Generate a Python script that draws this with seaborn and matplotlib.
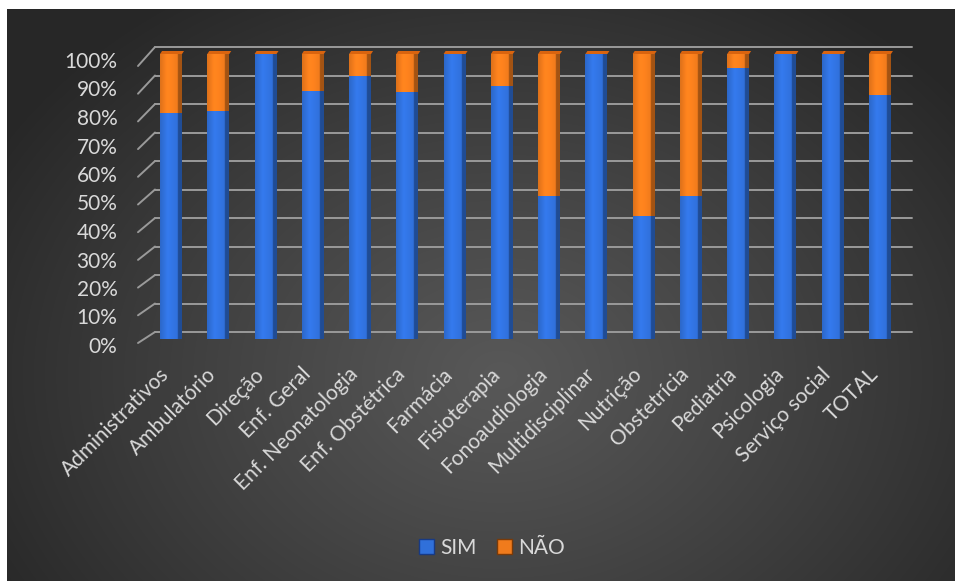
import numpy as np
import pandas as pd
import matplotlib
matplotlib.use("Agg")
import matplotlib.pyplot as plt
import seaborn as sns
from matplotlib.patches import Patch, Polygon
import matplotlib.transforms as mtransforms

# ---------------- data ----------------
categories = ["Administrativos", "Ambulatório", "Direção", "Enf. Geral",
              "Enf. Neonatologia", "Enf. Obstétrica", "Farmácia", "Fisioterapia",
              "Fonoaudiologia", "Multidisciplinar", "Nutrição", "Obstetrícia",
              "Pediatria", "Psicologia", "Serviço social", "TOTAL"]
sim = [79, 80, 100, 87, 92, 86.5, 100, 88.5, 50, 100, 43, 50, 95, 100, 100, 85.5]
nao = [21, 20, 0, 13, 8, 13.5, 0, 11.5, 50, 0, 57, 50, 5, 0, 0, 14.5]
series_labels = ["SIM", "NÃO"]
ytick_values = list(range(0, 101, 10))
ytick_labels = [f"{v}%" for v in ytick_values]

BLUE = "#3070da"
ORANGE = "#f07b1c"
TEXT = "#d9d9d9"
GRID = "#9a9a9a"

sns.set_style("white")
plt.rcParams["font.family"] = ["Lato", "DejaVu Sans"]

W, H, DPI = 956, 581, 100
fig = plt.figure(figsize=(W / DPI, H / DPI), dpi=DPI, facecolor="white")

# ---------------- background (radial gradient) ----------------
bg = fig.add_axes([7 / W, 0, 948 / W, 572 / H])
bw, bh = 948, 572
X, Y = np.meshgrid(np.arange(bw), np.arange(bh))
cx, cy = 0.52 * bw, 0.64 * bh
d = np.sqrt(((X - cx) / (0.62 * bw)) ** 2 + ((Y - cy) / (0.80 * bh)) ** 2)
d = np.clip(d, 0, 1)
c_center, c_edge = 0x58 / 255, 0x27 / 255
val = c_center + (c_edge - c_center) * d ** 1.1
img = np.dstack([val, val, val])
bg.imshow(img, aspect="auto", origin="upper", interpolation="bilinear")
bg.set_axis_off()
bg.set_zorder(-10)

# ---------------- main axes ----------------
ax_left, ax_right = 147.4, 903.6
ax_bottom, ax_top = 339, 54
ax = fig.add_axes([ax_left / W, (H - ax_bottom) / H,
                   (ax_right - ax_left) / W, (ax_bottom - ax_top) / H])
ax.patch.set_alpha(0)

df = pd.DataFrame({"cat": categories, "sim": sim, "nao": nao})
df["total"] = df["sim"] + df["nao"]

bar_w = 0.465
sns.barplot(data=df, x="cat", y="total", color=ORANGE, saturation=1,
            width=bar_w, errorbar=None, ax=ax, zorder=3, linewidth=0)
sns.barplot(data=df, x="cat", y="sim", color=BLUE, saturation=1,
            width=bar_w, errorbar=None, ax=ax, zorder=4, linewidth=0)

ax.set_xlim(-0.5, len(categories) - 0.5)
ax.set_ylim(0, 100)
for s in ax.spines.values():
    s.set_visible(False)
ax.set_xlabel("")
ax.set_ylabel("")

# ---------------- 3D-ish shading of bars ----------------
def shade(color, n=64):
    rgb = np.array(matplotlib.colors.to_rgb(color))
    t = np.linspace(0, 1, n)
    f = np.where(t < 0.35, 0.92 + 0.5 * t, 1.095 - 0.2 * (t - 0.35))
    f = np.where(t > 0.82, 0.68, f)
    arr = np.clip(rgb[None, :] * f[:, None], 0, 1)
    return arr[None, :, :]

n = len(categories)
patches = list(ax.patches)
orange_p, blue_p = patches[:n], patches[n:2 * n]
for grp, col, z in [(orange_p, ORANGE, 3.5), (blue_p, BLUE, 4.5)]:
    for p in grp:
        x0, y0 = p.get_x(), p.get_y()
        w, h = p.get_width(), p.get_height()
        if h <= 0:
            continue
        ax.imshow(shade(col), extent=(x0, x0 + w, y0, y0 + h), aspect="auto",
                  zorder=z, interpolation="bilinear")

ax.set_xlim(-0.5, n - 0.5)
ax.set_ylim(0, 100)
ax.set_aspect("auto")

# top caps
inv = ax.transData.inverted()
for p in orange_p:
    x0, w = p.get_x(), p.get_width()
    top = p.get_y() + p.get_height()
    a = ax.transData.transform([(x0, top), (x0 + w, top)])
    pts_disp = np.array([a[0], a[1], a[1] + [2, 3], a[0] + [2, 3]])
    pts = inv.transform(pts_disp)
    ax.add_patch(Polygon(pts, closed=True, facecolor="#d9640f",
                         edgecolor="none", zorder=5, clip_on=False))

# ---------------- gridlines (back wall) ----------------
off = mtransforms.ScaledTranslation(8 / DPI, 7 / DPI, fig.dpi_scale_trans)
for v in ytick_values:
    ax.plot([-0.5, n - 0.5], [v, v], color=GRID, lw=1.4,
            transform=ax.transData + off, zorder=1, clip_on=False)
    px, py = ax.transData.transform((-0.5, v))
    seg = inv.transform([(px - 9.4, py - (4 + 0.08 * v)), (px + 7.6, py + 7)])
    ax.plot(seg[:, 0], seg[:, 1], color=GRID, lw=1.4, zorder=1, clip_on=False)

# ---------------- ticks ----------------
ax.set_yticks(ytick_values)
ax.set_yticklabels(ytick_labels)
ax.tick_params(axis="y", length=0, pad=21.6, labelsize=15, labelcolor=TEXT)
for lab in ax.get_yticklabels():
    lab.set_transform(lab.get_transform() +
                      mtransforms.ScaledTranslation(0, -6 / DPI, fig.dpi_scale_trans))

ax.tick_params(axis="x", length=0, pad=23, labelsize=15, labelcolor=TEXT)
plt.setp(ax.get_xticklabels(), rotation=45, ha="right", va="center",
         rotation_mode="anchor")
for lab in ax.get_xticklabels():
    lab.set_transform(lab.get_transform() +
                      mtransforms.ScaledTranslation(-5 / DPI, 0, fig.dpi_scale_trans))
ax.grid(False)

# ---------------- legend ----------------
handles = [Patch(facecolor=BLUE, edgecolor="#173a85", lw=1),
           Patch(facecolor=ORANGE, edgecolor="#7a3a08", lw=1)]
fig.legend(handles, series_labels, loc="center",
           bbox_to_anchor=(492 / W, 1 - 548 / H), ncol=2, frameon=False,
           fontsize=15, handlelength=0.7, handleheight=0.7,
           handletextpad=0.3, columnspacing=1.0, labelcolor=TEXT)

fig.savefig("out.png", dpi=DPI, facecolor="white")
